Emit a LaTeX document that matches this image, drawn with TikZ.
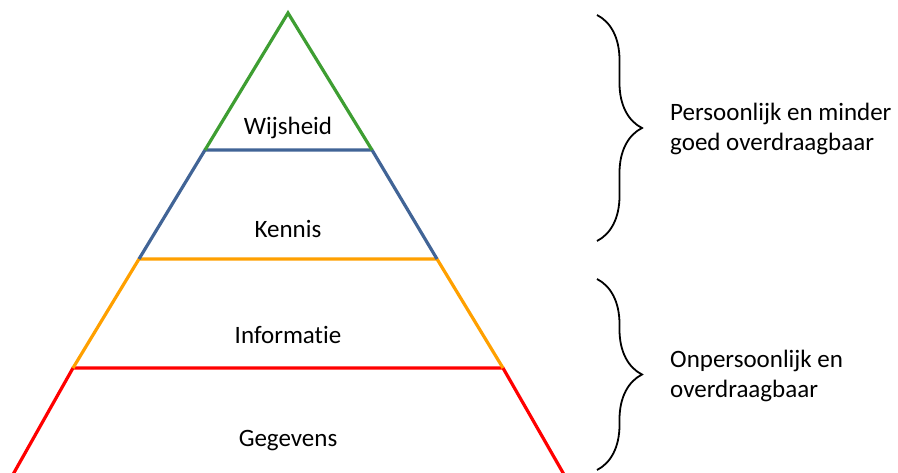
\documentclass[tikz,border=0pt]{standalone}
\usepackage{fontspec}
\setmainfont[Ligatures=NoCommon]{Carlito}
\usepackage{tikz}
\usetikzlibrary{decorations.pathreplacing}

\definecolor{wisgreen}{RGB}{62,158,50}
\definecolor{kenblue}{RGB}{65,100,150}
\definecolor{infoorange}{RGB}{255,160,0}
\definecolor{gegred}{RGB}{255,0,0}

\tikzset{
  level/.style={line width=3.2pt, line join=miter},
  laag/.style={font=\fontsize{25}{30}\selectfont, inner sep=0pt},
  accolade/.style={line width=1.8pt, decorate, decoration={brace, amplitude=45pt, aspect=0.5}},
  uitleg/.style={font=\fontsize{25}{30}\selectfont, align=left, anchor=west, inner sep=0pt}
}

\begin{document}
\begin{tikzpicture}[x=1pt, y=-1pt]
        \useasboundingbox (0,0) rectangle (898,473);
        \clip (0,0) rectangle (898,473);
        \draw [level, gegred]      (11,478) -- (73,368) -- (503,368) -- (566,478);   %Gegevens
        \draw [level, infoorange]  (73,368) -- (139,259) -- (437,259) -- (503,368);  %Informatie
        \draw [level, kenblue]     (139,259) -- (205,150) -- (372,150) -- (437,259); %Kennis
        \draw [level, wisgreen]    (205,150) -- (288,13) -- (372,150);               %Wijsheid

        \node [laag] (wijsheid)   at (288,128) {Wijsheid};
        \node [laag] (kennis)     at (288,229) {Kennis};
        \node [laag] (informatie) at (288,335) {Informatie};
        \node [laag] (gegevens)   at (288,441) {Gegevens};

        \draw [accolade] (597,15) -- (597,241);                                       %persoonlijk
        \node [uitleg] (persoonlijk)   at (670,129) {Persoonlijk en minder\\goed overdraagbaar};
        \draw [accolade] (597,279) -- (597,470);                                      %onpersoonlijk
        \node [uitleg] (onpersoonlijk) at (670,376) {Onpersoonlijk en\\overdraagbaar};
\end{tikzpicture}
\end{document}
